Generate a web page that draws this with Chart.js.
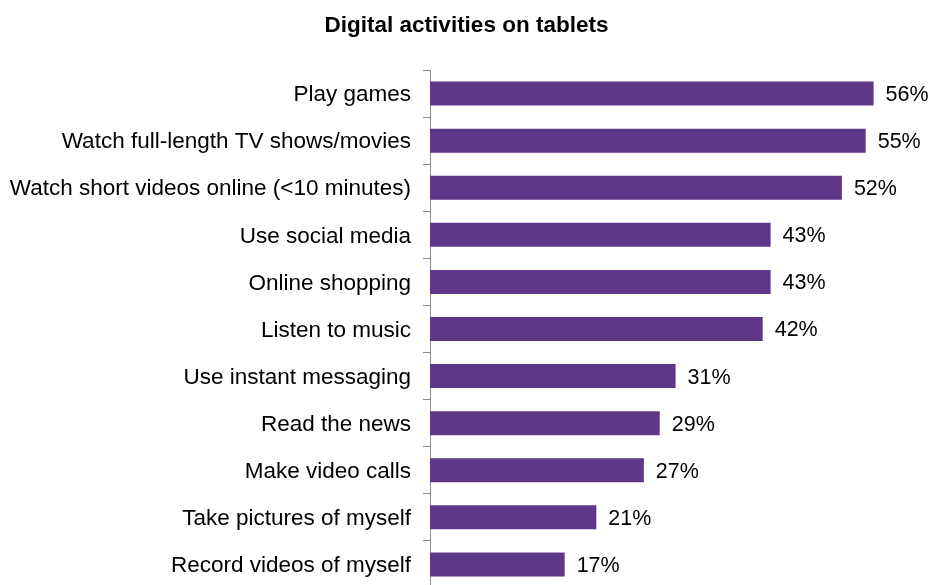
<!DOCTYPE html>
<html>
<head>
<meta charset="utf-8">
<script src="https://cdn.jsdelivr.net/npm/chart.js@4"></script>
<style>
  html, body { margin: 0; padding: 0; background: #ffffff; overflow: hidden; }
  canvas { display: block; }
</style>
</head>
<body>
<canvas id="graficoTablets" width="933" height="588"></canvas>
<script>
const activities = [
    "Play games",
    "Watch full-length TV shows/movies",
    "Watch short videos online (<10 minutes)",
    "Use social media",
    "Online shopping",
    "Listen to music",
    "Use instant messaging",
    "Read the news",
    "Make video calls",
    "Take pictures of myself",
    "Record videos of myself"
];
const percentages = [56, 55, 52, 43, 43, 42, 31, 29, 27, 21, 17];

const FONT = "'Liberation Sans', Arial, sans-serif";

// value labels to the right of each bar
const valueLabels = {
    id: 'valueLabels',
    afterDatasetsDraw(chart) {
        const { ctx } = chart;
        const meta = chart.getDatasetMeta(0);
        ctx.save();
        ctx.font = '21.5px ' + FONT;
        ctx.fillStyle = '#000000';
        ctx.textAlign = 'left';
        ctx.textBaseline = 'middle';
        meta.data.forEach((bar, i) => {
            ctx.fillText(percentages[i] + '%', bar.x + 12, bar.y + 1.5);
        });
        ctx.restore();
    }
};

new Chart(document.getElementById('graficoTablets'), {
    type: 'bar',
    data: {
        labels: activities,
        datasets: [{
            data: percentages,
            backgroundColor: '#5f3789',
            borderWidth: 0,
            categoryPercentage: 1,
            barPercentage: 0.51
        }]
    },
    options: {
        indexAxis: 'y',
        responsive: false,
        animation: false,
        layout: { padding: 0 },
        scales: {
            x: {
                display: false,
                min: 0,
                max: 63.5
            },
            y: {
                afterFit(scale) {
                    scale.width = 430;
                    // let the bands run the full height below the title
                    scale.paddingTop = 0;
                    scale.paddingBottom = 0;
                },
                grid: {
                    display: true,
                    offset: true,
                    drawOnChartArea: false,
                    drawTicks: true,
                    tickLength: 7,
                    color: '#8c8c8c'
                },
                border: { display: true, color: '#8c8c8c', width: 1 },
                ticks: {
                    color: '#000000',
                    padding: 12,
                    labelOffset: 1.5,
                    font: { family: FONT, size: 22.5 }
                }
            }
        },
        plugins: {
            legend: { display: false },
            tooltip: { enabled: false },
            title: {
                display: true,
                text: 'Digital activities on tablets',
                color: '#000000',
                font: { family: FONT, size: 22.5, weight: 'bold' },
                padding: { top: 12, bottom: 31 }
            }
        }
    },
    plugins: [valueLabels]
});
</script>
</body>
</html>
